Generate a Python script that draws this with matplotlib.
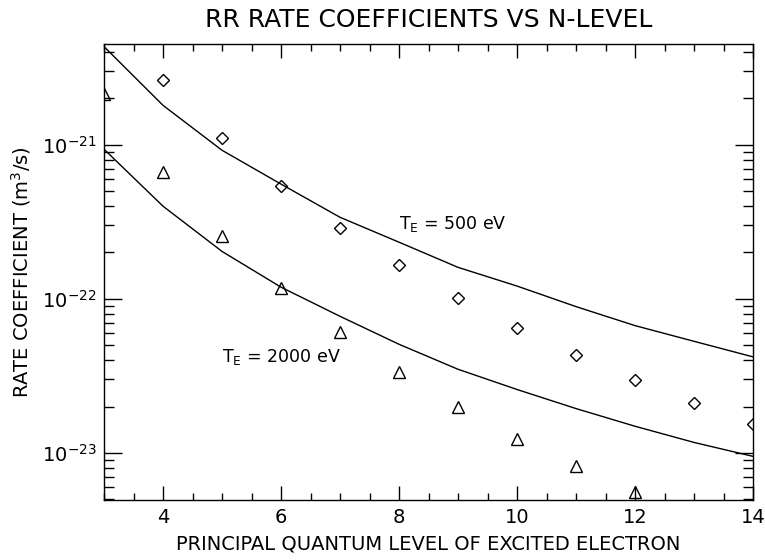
import matplotlib
matplotlib.use("Agg")
import matplotlib.pyplot as plt
from matplotlib.ticker import LogLocator, NullFormatter, MultipleLocator, FixedLocator

# Data
n_line = [3, 4, 5, 6, 7, 8, 9, 10, 11, 12, 13, 14]
fit_500 = [4.33e-21, 1.80e-21, 9.2e-22, 5.55e-22, 3.38e-22, 2.33e-22, 1.60e-22,
           1.21e-22, 8.9e-23, 6.7e-23, 5.3e-23, 4.2e-23]
fit_2000 = [9.35e-22, 3.99e-22, 2.03e-22, 1.19e-22, 7.7e-23, 5.07e-23, 3.49e-23,
            2.58e-23, 1.94e-23, 1.49e-23, 1.17e-23, 9.5e-24]

n_diamond = [4, 5, 6, 7, 8, 9, 10, 11, 12, 13, 14]
rr_500 = [2.62e-21, 1.10e-21, 5.38e-22, 2.87e-22, 1.65e-22, 1.01e-22, 6.43e-23,
          4.29e-23, 2.96e-23, 2.10e-23, 1.53e-23]

n_triangle = [3, 4, 5, 6, 7, 8, 9, 10, 11, 12]
rr_2000 = [2.13e-21, 6.62e-22, 2.55e-22, 1.17e-22, 6.06e-23, 3.33e-23, 2.0e-23,
           1.24e-23, 8.2e-24, 5.55e-24]

y_major = [1e-23, 1e-22, 1e-21]
label_500 = r"T$_\mathrm{E}$ = 500 eV"
label_2000 = r"T$_\mathrm{E}$ = 2000 eV"

fig = plt.figure(figsize=(7.65, 5.6), dpi=100)
ax = fig.add_axes([104 / 765, 1 - 500 / 560, (753 - 104) / 765, (500 - 44) / 560])

ax.plot(n_line, fit_500, color="black", lw=1.0)
ax.plot(n_line, fit_2000, color="black", lw=1.0)
ax.plot(n_diamond, rr_500, linestyle="none", marker="D", ms=6.5, mfc="none",
        mec="black", mew=1.0)
ax.plot(n_triangle, rr_2000, linestyle="none", marker="^", ms=8, mfc="none",
        mec="black", mew=1.0)

ax.set_yscale("log")
ax.set_xlim(3, 14)
ax.set_ylim(4.95e-24, 4.5e-21)

ax.xaxis.set_major_locator(MultipleLocator(2))
ax.xaxis.set_minor_locator(MultipleLocator(0.5))
ax.yaxis.set_major_locator(FixedLocator(y_major))
ax.yaxis.set_minor_locator(LogLocator(base=10, subs=range(2, 10)))
ax.yaxis.set_minor_formatter(NullFormatter())

ax.tick_params(which="both", direction="in", top=True, right=True,
               labelsize=14, width=1.0, colors="black")
ax.tick_params(axis="x", which="major", length=10, pad=6)
ax.tick_params(axis="x", which="minor", length=5)
ax.tick_params(axis="y", which="major", length=13, pad=5.5)
ax.tick_params(axis="y", which="minor", length=7)
for s in ax.spines.values():
    s.set_linewidth(1.0)

ax.text(8.0, 3.07e-22, label_500, fontsize=12.5, ha="left", va="center")
ax.text(5.0, 4.2e-23, label_2000, fontsize=12.5, ha="left", va="center")

ax.set_title("RR RATE COEFFICIENTS VS N-LEVEL", fontsize=18, pad=12)
ax.set_xlabel("PRINCIPAL QUANTUM LEVEL OF EXCITED ELECTRON", fontsize=14, labelpad=5)
ax.set_ylabel(r"RATE COEFFICIENT (m$^3$/s)", fontsize=14, labelpad=6)

fig.savefig("out.png", dpi=100)
